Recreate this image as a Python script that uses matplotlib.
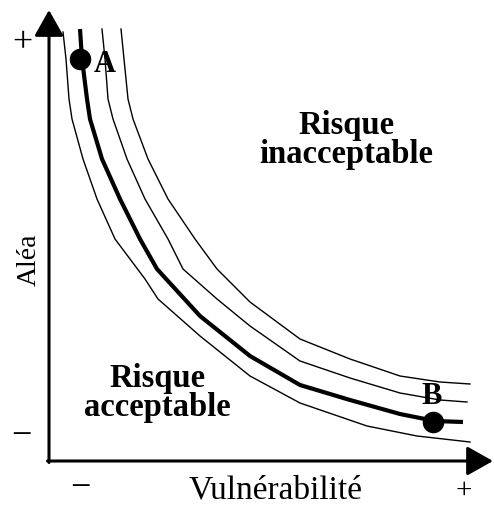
import matplotlib
matplotlib.use('Agg')
import matplotlib.pyplot as plt

plt.rcParams['font.family'] = ['Liberation Serif', 'DejaVu Serif']

# coordinates measured from the origin of the two axes (vulnerability, hazard)
inner_x = [14, 17, 20, 23, 34, 48, 66, 96, 109, 151, 201, 251, 318, 368, 421]
inner_y = [429, 402, 362, 342, 302, 262, 222, 182, 162, 125, 85, 58, 35, 25, 19]

thick_x = [31, 33, 38, 41, 53, 71, 91, 108, 151, 201, 251, 301, 351, 386, 414]
thick_y = [432, 402, 362, 342, 302, 262, 222, 192, 145, 105, 76, 61, 47, 40, 39]

outer1_x = [53, 56, 59, 64, 78, 96, 119, 134, 168, 201, 251, 301, 351, 391, 418]
outer1_y = [432, 402, 362, 342, 302, 262, 222, 192, 162, 135, 100, 83, 68, 61, 59]

outer2_x = [72, 75, 79, 84, 99, 119, 146, 168, 201, 251, 301, 351, 391, 421]
outer2_y = [432, 402, 362, 342, 302, 262, 222, 192, 159, 122, 102, 85, 79, 77]

point_names = ['A', 'B']
point_x = [31, 384]
point_y = [402, 39]
label_x = [56, 383]
label_y = [398, 65]

fig = plt.figure(figsize=(4.94, 5.06), dpi=100)
ax = fig.add_axes([0, 0, 1, 1])
ax.set_xlim(-49, 445)
ax.set_ylim(-44, 462)
ax.axis('off')

ax.plot(inner_x, inner_y, color='black', lw=1.0, solid_joinstyle='round')
ax.plot(outer1_x, outer1_y, color='black', lw=1.0, solid_joinstyle='round')
ax.plot(outer2_x, outer2_y, color='black', lw=1.0, solid_joinstyle='round')
ax.plot(thick_x, thick_y, color='black', lw=3.0, solid_capstyle='butt',
        solid_joinstyle='round')
ax.scatter(point_x, point_y, s=210, color='black', zorder=3)
for name, x, y in zip(point_names, label_x, label_y):
    ax.text(x, y, name, fontsize=22, fontweight='bold', ha='center', va='center')

# axes with arrow heads
arrow = dict(arrowstyle='-|>,head_length=0.8,head_width=0.45', lw=2.2,
             color='black', mutation_scale=20, shrinkA=0, shrinkB=0)
ax.annotate('', xy=(0, 451), xytext=(0, -1.5), arrowprops=arrow,
            annotation_clip=False)
ax.annotate('', xy=(444, 0), xytext=(-1.5, 0), arrowprops=arrow,
            annotation_clip=False)

ax.text(-27, 418, '+', fontsize=26, ha='center', va='center')
ax.text(-28, 25, '\u2212', fontsize=26, ha='center', va='center')
ax.text(31, -27, '\u2212', fontsize=26, ha='center', va='center')
ax.text(415, -29, '+', fontsize=21, ha='center', va='center')

ax.text(-20, 202, 'Aléa', fontsize=20, rotation=90, ha='center', va='center')
ax.text(227, -28, 'Vulnérabilité', fontsize=24, ha='center', va='center')

ax.text(297, 322, 'Risque\ninacceptable', fontsize=23.5, fontweight='bold',
        ha='center', va='center', linespacing=0.95)
ax.text(108, 69, 'Risque\nacceptable', fontsize=23.5, fontweight='bold',
        ha='center', va='center', linespacing=0.95)

fig.savefig('out.png', dpi=100)
